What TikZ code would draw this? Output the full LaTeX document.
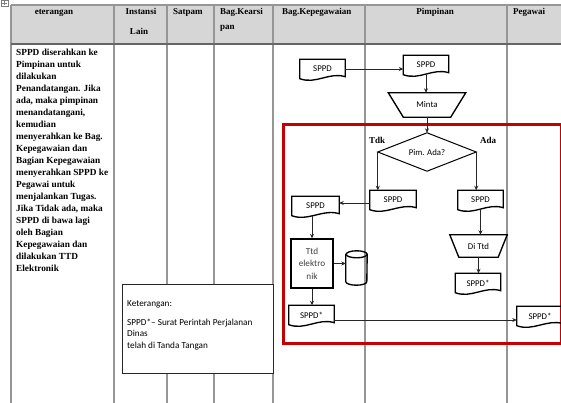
\documentclass[tikz,border=0pt]{standalone}
\usepackage{fontspec}
\setmainfont{Liberation Serif}
\newfontfamily\calfont{Carlito}
\usetikzlibrary{arrows.meta}
\definecolor{hdrgray}{RGB}{214,214,214}
\definecolor{gridgray}{RGB}{150,150,150}
\definecolor{boxred}{RGB}{196,0,0}
\tikzset{
  grid/.style={draw=gridgray, line width=1.3pt},
  hd/.style={font=\fontsize{9}{11}\selectfont\bfseries, inner sep=0pt},
  lbl/.style={font=\fontsize{9}{11}\selectfont\bfseries, inner sep=0pt},
  kt/.style={font=\calfont\fontsize{9.2}{11}\selectfont, inner sep=0pt},
  shp/.style={draw=black, line width=1.35pt, line join=miter},
  conn/.style={draw=black!85, line width=0.75pt, -{Stealth[length=4.5pt,width=4pt]}},
  flow/.style={font=\calfont\fontsize{8.8}{10}\selectfont, inner sep=0pt},
  doc/.style={flow, minimum width=#1, minimum height=19pt,
    append after command={\pgfextra{\let\dn\tikzlastnode
      \draw[shp] (\dn.south west) -- (\dn.north west) -- (\dn.north east) -- ([yshift=2pt]\dn.south east)
        .. controls +(-16pt,5pt) and +(16pt,-6pt) .. (\dn.south west) -- cycle;}}},
  doc/.default=45pt,
  trap/.style n args={3}{flow, minimum width=#1, minimum height=#2,
    append after command={\pgfextra{\let\tn\tikzlastnode
      \draw[shp] (\tn.north west) -- (\tn.north east) -- ([xshift=-#3]\tn.south east) -- ([xshift=#3]\tn.south west) -- cycle;}}},
  dia/.style={flow, minimum width=98pt, minimum height=38pt,
    append after command={\pgfextra{\let\qn\tikzlastnode
      \draw[shp, line width=1pt] (\qn.north) -- (\qn.east) -- (\qn.south) -- (\qn.west) -- cycle;}}},
  procbox/.style={flow, shp, text=black!75, align=center, minimum width=42pt, minimum height=49pt, font=\calfont\fontsize{9.2}{12.5}\selectfont},
  cyl/.style={flow, minimum width=21pt, minimum height=34pt,
    append after command={\pgfextra{\let\cn\tikzlastnode
      \draw[shp] ([yshift=-3.5pt]\cn.north west) -- ([yshift=3.5pt]\cn.south west)
        arc[start angle=180, end angle=360, x radius=10.5pt, y radius=3.5pt]
        -- ([yshift=-3.5pt]\cn.north east)
        arc[start angle=0, end angle=180, x radius=10.5pt, y radius=3.5pt] -- cycle;
      \draw[shp] ([yshift=-3.5pt]\cn.north east) arc[start angle=0, end angle=-180, x radius=10.5pt, y radius=3.5pt];}}},
}
\begin{document}
\begin{tikzpicture}[x=1pt,y=1pt]
\clip (0,0) rectangle (561,-403);
\fill[white] (0,0) rectangle (561,-403);
% header band
\fill[hdrgray] (11,-5) rectangle (575,-44);
\foreach \x in {11,114,167,214,273,365,507} \draw[grid] (\x,-5) -- (\x,-410);
\draw[grid] (11,-5) -- (575,-5);
\draw[grid, draw=black!60] (11,-44) -- (575,-44);
% small handle icon
\draw[gray, line width=0.4pt] (1,-0.5) rectangle (8,-6.5);
\draw[gray, line width=0.4pt] (4.5,-1.5) -- (4.5,-5.5) (2,-3.5) -- (7,-3.5);
% header texts
\node[hd, anchor=base] (h1) at (54,-15) {eterangan};
\node[hd, anchor=base] (h2) at (141,-15) {Instansi};
\node[hd, anchor=base] (h2b) at (139,-35) {Lain};
\node[hd, anchor=base west] (h3) at (173,-15) {Satpam};
\node[hd, anchor=base west] (h4) at (220,-15) {Bag.Kearsi};
\node[hd, anchor=base west] (h4b) at (220,-30) {pan};
\node[hd, anchor=base west] (h5) at (282,-15) {Bag.Kepegawaian};
\node[hd, anchor=base] (h6) at (435,-15) {Pimpinan};
\node[hd, anchor=base west] (h7) at (513,-15) {Pegawai};
% left description
\node[font=\fontsize{9.3}{12}\selectfont\bfseries, inner sep=0pt, align=left, anchor=north west] (lt) at (16,-49)
{SPPD diserahkan ke\\Pimpinan untuk\\dilakukan\\Penandatangan. Jika\\ada, maka pimpinan\\menandatangani,\\kemudian\\menyerahkan ke Bag.\\Kepegawaian dan\\Bagian Kepegawaian\\menyerahkan SPPD ke\\Pegawai untuk\\menjalankan Tugas.\\Jika Tidak ada, maka\\SPPD di bawa lagi\\oleh Bagian\\Kepegawaian dan\\dilakukan TTD\\Elektronik};
% keterangan box
\node[draw=black!85, line width=0.8pt, fill=white, minimum width=151pt, minimum height=89pt, anchor=north west, inner sep=0pt] (kb) at (122,-284) {};
\node[kt, anchor=base west] (k1) at (127,-306) {Keterangan:};
\node[kt, anchor=base west] (k2) at (127,-325) {SPPD*– Surat Perintah Perjalanan};
\node[kt, anchor=base west] (k3) at (127,-336.5) {Dinas};
\node[kt, anchor=base west] (k4) at (127,-348) {telah di Tanda Tangan};
% red frame
\draw[boxred, line width=3pt] (283,-125) rectangle (561.5,-343);
% flow nodes
\node[doc] (d1) at (322.5,-69) {SPPD};
\node[doc] (d2) at (426,-65) {SPPD};
\node[trap={77pt}{24pt}{15pt}] (mi) at (427,-105) {Minta};
\node[dia] (q) at (427,-152) {Pim. Ada?};
\node[lbl, anchor=base] (tdk) at (377,-144) {Tdk};
\node[lbl, anchor=base] (ada) at (488,-144) {Ada};
\node[doc=46pt] (dl) at (393,-200) {SPPD};
\node[doc] (dr) at (480.5,-200) {SPPD};
\node[doc=47pt] (dk) at (315.5,-206) {SPPD};
\node[procbox] (tt) at (312,-263.5) {Ttd\\elektro\\nik};
\node[cyl] (cy) at (356.5,-268) {};
\node[doc] (dks) at (311.5,-315) {SPPD*};
\node[doc=46pt] (dp) at (540,-316) {SPPD*};
\node[trap={57pt}{22pt}{9pt}] (dt) at (478.5,-246) {Di Ttd};
\node[doc] (drs) at (478,-283) {SPPD*};
% connectors
\draw[conn] (d1.east) -- (d1.east -| d2.west);
\draw[conn] (d2.south) -- (d2.south |- mi.north);
\draw[conn] (mi.south) -- (q.north);
\draw[conn] (q.west) -- (q.west |- dl.north);
\draw[conn] (q.east) -- (q.east |- dr.north);
\coordinate (kl) at ([yshift=-3pt]dl.west);
\draw[conn] (kl) -- (kl -| dk.east);
\draw[conn] (tt.north |- dk.south) -- (tt.north);
\draw[conn] (tt.east) -- (tt.east -| cy.west);
\draw[conn] (tt.south) -- (tt.south |- dks.north);
\coordinate (ks) at ([yshift=-5pt]dks.east);
\draw[conn] (ks) -- (ks -| dp.west);
\draw[conn] (dr.south) -- (dr.south |- dt.north);
\draw[conn] (dt.south) -- (dt.south |- drs.north);
\end{tikzpicture}
\end{document}
